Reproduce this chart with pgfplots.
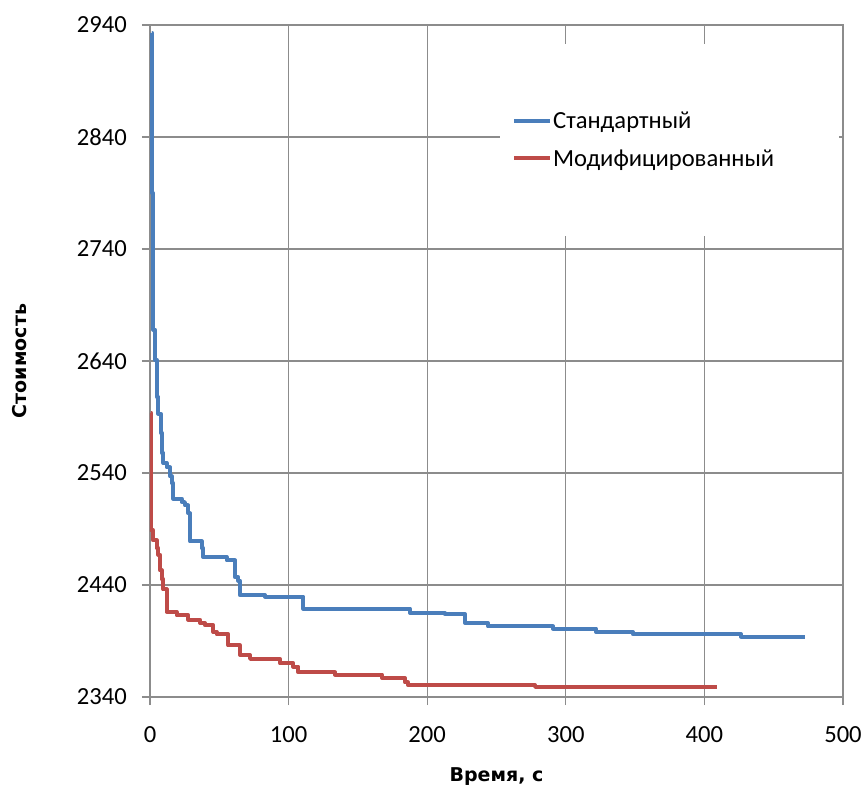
\documentclass[border=0pt]{standalone}
\usepackage{pgfplots}
\pgfplotsset{compat=1.18}
\usepackage{fontspec}
\setmainfont{Carlito}
\newfontfamily\lblfont{DejaVu Sans}
\definecolor{sblue}{HTML}{4A7EBB}
\definecolor{sred}{HTML}{BE4B48}
\definecolor{grd}{HTML}{8C8C8C}
\newcommand{\tfont}{\fontsize{24.6}{29.5}\selectfont}
\begin{document}
\begin{tikzpicture}[x=1pt,y=1pt]
\path[use as bounding box] (0,0) rectangle (861,787);
\begin{axis}[
  at={(150pt,90pt)}, anchor=south west,
  scale only axis, width=693pt, height=672pt,
  xmin=0, xmax=500, ymin=2340, ymax=2940,
  xtick={0,100,...,500}, ytick={2340,2440,...,2940},
  grid=major, major grid style={grd, line width=1.3pt},
  axis line style={grd, line width=1.3pt},
  tick style={grd, line width=1.3pt},
  tick align=outside, major tick length=8pt, tick pos=left,
  /pgf/number format/assume math mode=true,
  /pgf/number format/1000 sep={},
  ticklabel style={font=\tfont, inner sep=0pt, text=black},
  xticklabel style={anchor=north, yshift=-21pt},
  yticklabel style={anchor=east, xshift=-15pt},
  xlabel={Время, с}, ylabel={Стоимость},
  xlabel style={font=\lblfont\bfseries\fontsize{19}{23}\selectfont, at={(axis description cs:0.5,-0.119)}, anchor=center},
  ylabel style={font=\lblfont\bfseries\fontsize{19}{23}\selectfont, at={(axis description cs:-0.1876,0.5)}, anchor=center},
  legend style={at={(axis description cs:0.505,0.829)}, anchor=west, draw=none, fill=white,
    inner xsep=12pt, inner ysep=68pt, row sep=19pt, font=\tfont,
    nodes={inner xsep=1pt, inner ysep=0pt}},
  legend cell align=left,
  legend image code/.code={\draw[#1] (0pt,0pt) -- (36pt,0pt);},
  every axis plot/.append style={line width=4pt, line join=round},
]
\addplot[sblue, const plot] coordinates {
(1.2,2933) (1.6,2790) (2.0,2720) (2.4,2668) (3.6,2641) (4.8,2608) (6.0,2593)
(7.7,2576) (8.4,2558) (9.6,2549) (12.0,2545) (14.4,2537) (15.6,2531) (16.8,2517)
(22.8,2514) (25.2,2511) (27.6,2504) (28.8,2479) (37.2,2473) (38.4,2465) (55.3,2462)
(61.3,2447) (63.7,2444) (64.9,2431) (83.0,2429.6) (110.6,2419) (187.6,2415)
(212.8,2414) (227.3,2406) (243.9,2403) (290.8,2401) (321.8,2398) (348.5,2396)
(426.4,2394) (472.6,2394)
};
\addlegendentry{Стандартный}
\addplot[sred, const plot] coordinates {
(0.7,2594) (0.8,2540) (0.9,2500) (1.0,2489) (2.0,2480) (4.8,2473) (6.0,2467)
(7.2,2453) (8.4,2445) (9.6,2436) (12.0,2416) (19.2,2413) (27.6,2409) (36.1,2406)
(39.7,2404) (45.7,2398) (48.1,2396) (56.5,2386) (64.9,2377.5) (72.2,2374)
(93.8,2370) (103.4,2367) (107.0,2362) (133.5,2360) (167.4,2357) (184.0,2353)
(186.1,2350.7) (277.8,2349) (409.0,2349)
};
\addlegendentry{Модифицированный\rule{52pt}{0pt}}
\end{axis}
\end{tikzpicture}
\end{document}
